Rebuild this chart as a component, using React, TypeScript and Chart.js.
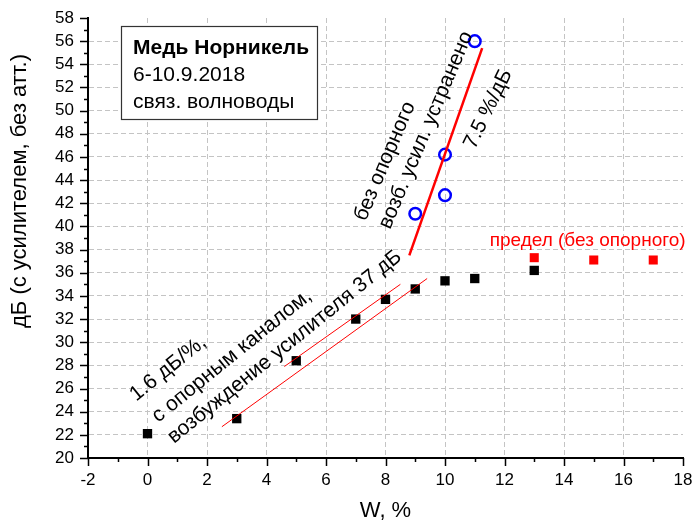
import React, { useEffect, useRef } from 'react';
import { Chart, registerables } from 'chart.js';

Chart.register(...registerables);

// ---- data ----
const xMin = -2;
const xMax = 18;
const yMin = 20;
const yMax = 58;
const tickStep = 2;

const refX = [0, 3, 5, 7, 8, 9, 10, 11, 13];
const refY = [22.1, 23.4, 28.4, 32.0, 33.7, 34.6, 35.3, 35.5, 36.2];

const limitX = [13, 15, 17];
const limitY = [37.3, 37.1, 37.1];

const noRefX = [9, 10, 10, 11];
const noRefY = [41.1, 42.7, 46.2, 56.0];

const steepFitX = [8.8, 11.25];
const steepFitY = [37.5, 55.4];

const fitAX = [2.5, 9.4];
const fitAY = [22.7, 35.5];

const fitBX = [4.6, 8.5];
const fitBY = [27.9, 35.0];

const boxLines = ['Медь Норникель', '6-10.9.2018', 'связ. волноводы'];
const xTitle = 'W, %';
const yTitle = 'дБ (с усилителем, без атт.)';
const limitLabel = 'предел (без опорного)';

const slopeLowLines = ['1.6 дБ/%,', 'с опорным каналом,', 'возбуждение усилителя 37 дБ'];
const slopeLowAnchorX = [-0.38, 0.36, 0.89];
const slopeLowAnchorY = [24.86, 23.02, 21.21];

const slopeHighLines = ['без опорного', 'возб. усил. устранено', '7.5 %/дБ'];
const slopeHighAnchorX = [7.33, 8.15, 11.0];
const slopeHighAnchorY = [40.38, 39.69, 46.6];
const slopeHighAngles = [-67, -67, -64];

const FONT = '"Liberation Sans", Arial, Helvetica, sans-serif';

const pts = (xs: number[], ys: number[]) => xs.map((x, i) => ({ x, y: ys[i] }));

const decorPlugin = {
  id: 'decor',
  afterDraw(chart: any) {
    const { ctx, chartArea } = chart;
    const xs = chart.scales.x;
    const ys = chart.scales.y;
    ctx.save();

    // tick marks (major + minor)
    ctx.strokeStyle = '#000';
    ctx.lineWidth = 1.5;
    ctx.beginPath();
    for (let v = xMin; v <= xMax; v += 1) {
      const px = Math.round(xs.getPixelForValue(v)) + 0.5;
      const len = v % 2 === 0 ? 8 : 4;
      ctx.moveTo(px, chartArea.bottom);
      ctx.lineTo(px, chartArea.bottom + len);
    }
    for (let v = yMin; v <= yMax; v += 1) {
      const py = Math.round(ys.getPixelForValue(v)) + 0.5;
      const len = v % 2 === 0 ? 8 : 4;
      ctx.moveTo(chartArea.left, py);
      ctx.lineTo(chartArea.left - len, py);
    }
    ctx.stroke();

    // info box
    ctx.fillStyle = '#fff';
    ctx.fillRect(121, 26, 197, 94);
    ctx.strokeStyle = '#333';
    ctx.lineWidth = 1.2;
    ctx.strokeRect(121.5, 26.5, 196, 93);
    ctx.fillStyle = '#000';
    ctx.textAlign = 'left';
    ctx.textBaseline = 'alphabetic';
    ctx.font = `bold 21px ${FONT}`;
    ctx.fillText(boxLines[0], 133, 54);
    ctx.font = `21px ${FONT}`;
    ctx.fillText(boxLines[1], 133, 81);
    ctx.fillText(boxLines[2], 133, 108);

    const rot = (text: string, xv: number, yv: number, deg: number, font: string, color: string) => {
      ctx.save();
      ctx.translate(xs.getPixelForValue(xv), ys.getPixelForValue(yv));
      ctx.rotate((deg * Math.PI) / 180);
      ctx.font = font;
      ctx.fillStyle = color;
      ctx.textAlign = 'left';
      ctx.textBaseline = 'alphabetic';
      ctx.fillText(text, 0, 0);
      ctx.restore();
    };

    slopeLowLines.forEach((t, i) =>
      rot(t, slopeLowAnchorX[i], slopeLowAnchorY[i], -39, `21px ${FONT}`, '#000')
    );
    slopeHighLines.forEach((t, i) =>
      rot(t, slopeHighAnchorX[i], slopeHighAnchorY[i], slopeHighAngles[i], `21px ${FONT}`, '#000')
    );
    rot(limitLabel, 11.5, 38.31, 0, `19px ${FONT}`, '#ff0000');

    // axis titles
    ctx.fillStyle = '#000';
    ctx.font = `22px ${FONT}`;
    ctx.textAlign = 'center';
    ctx.textBaseline = 'alphabetic';
    ctx.fillText(xTitle, (chartArea.left + chartArea.right) / 2, 517);
    ctx.save();
    ctx.translate(26, 191);
    ctx.rotate(-Math.PI / 2);
    ctx.fillText(yTitle, 0, 0);
    ctx.restore();

    ctx.restore();
  },
};

const gridColor = (edgeA: number, edgeB: number) => (c: any) => {
  const v = c.tick ? c.tick.value : null;
  if (v === edgeA || v === edgeB) return 'rgba(0,0,0,0)';
  return '#c4c4c4';
};

export default function App() {
  const ref = useRef<HTMLCanvasElement | null>(null);

  useEffect(() => {
    if (!ref.current) return;
    const chart = new Chart(ref.current, {
      type: 'scatter',
      data: {
        datasets: [
          {
            label: 'fitA',
            type: 'line',
            data: pts(fitAX, fitAY),
            borderColor: '#ff0000',
            borderWidth: 1,
            pointRadius: 0,
            showLine: true,
            fill: false,
          },
          {
            label: 'fitB',
            type: 'line',
            data: pts(fitBX, fitBY),
            borderColor: '#ff0000',
            borderWidth: 1,
            pointRadius: 0,
            showLine: true,
            fill: false,
          },
          {
            label: 'steep',
            type: 'line',
            data: pts(steepFitX, steepFitY),
            borderColor: '#ff0000',
            borderWidth: 2.5,
            pointRadius: 0,
            showLine: true,
            fill: false,
          },
          {
            label: 'ref',
            data: pts(refX, refY),
            pointStyle: 'rect',
            pointRadius: 6.6,
            backgroundColor: '#000',
            borderColor: '#000',
            borderWidth: 0,
          },
          {
            label: 'limit',
            data: pts(limitX, limitY),
            pointStyle: 'rect',
            pointRadius: 6.4,
            backgroundColor: '#ff0000',
            borderColor: '#ff0000',
            borderWidth: 0,
          },
          {
            label: 'noref',
            data: pts(noRefX, noRefY),
            pointStyle: 'circle',
            pointRadius: 5.8,
            backgroundColor: 'rgba(0,0,0,0)',
            borderColor: '#0000ff',
            borderWidth: 2.5,
          },
        ],
      },
      options: {
        responsive: false,
        animation: false,
        devicePixelRatio: 1,
        layout: { padding: { top: 18, right: 9, left: 0, bottom: 0 } },
        plugins: {
          legend: { display: false },
          tooltip: { enabled: false },
          title: { display: false },
        },
        scales: {
          x: {
            type: 'linear',
            min: xMin,
            max: xMax,
            ticks: {
              stepSize: tickStep,
              color: '#000',
              font: { family: FONT, size: 17 },
              padding: 12,
              maxRotation: 0,
              autoSkip: false,
            },
            grid: { color: gridColor(xMin, xMax), lineWidth: 1, drawTicks: false },
            border: { display: true, color: '#000', width: 2, dash: [5, 3] },
            afterFit: (s: any) => {
              s.height = 66;
              s.paddingLeft = 0;
              s.paddingRight = 0;
            },
          },
          y: {
            type: 'linear',
            min: yMin,
            max: yMax,
            ticks: {
              stepSize: tickStep,
              color: '#000',
              font: { family: FONT, size: 17 },
              padding: 14,
              autoSkip: false,
            },
            grid: { color: gridColor(yMin, yMax), lineWidth: 1, drawTicks: false },
            border: { display: true, color: '#000', width: 2, dash: [5, 3] },
            afterFit: (s: any) => {
              s.width = 88;
              s.paddingTop = 0;
              s.paddingBottom = 0;
            },
          },
        },
      },
      plugins: [decorPlugin],
    });
    return () => chart.destroy();
  }, []);

  return (
    <div style={{ position: 'absolute', left: 0, top: 0, width: 692, height: 524, background: '#fff' }}>
      <canvas ref={ref} width={692} height={524} style={{ display: 'block' }} />
    </div>
  );
}
